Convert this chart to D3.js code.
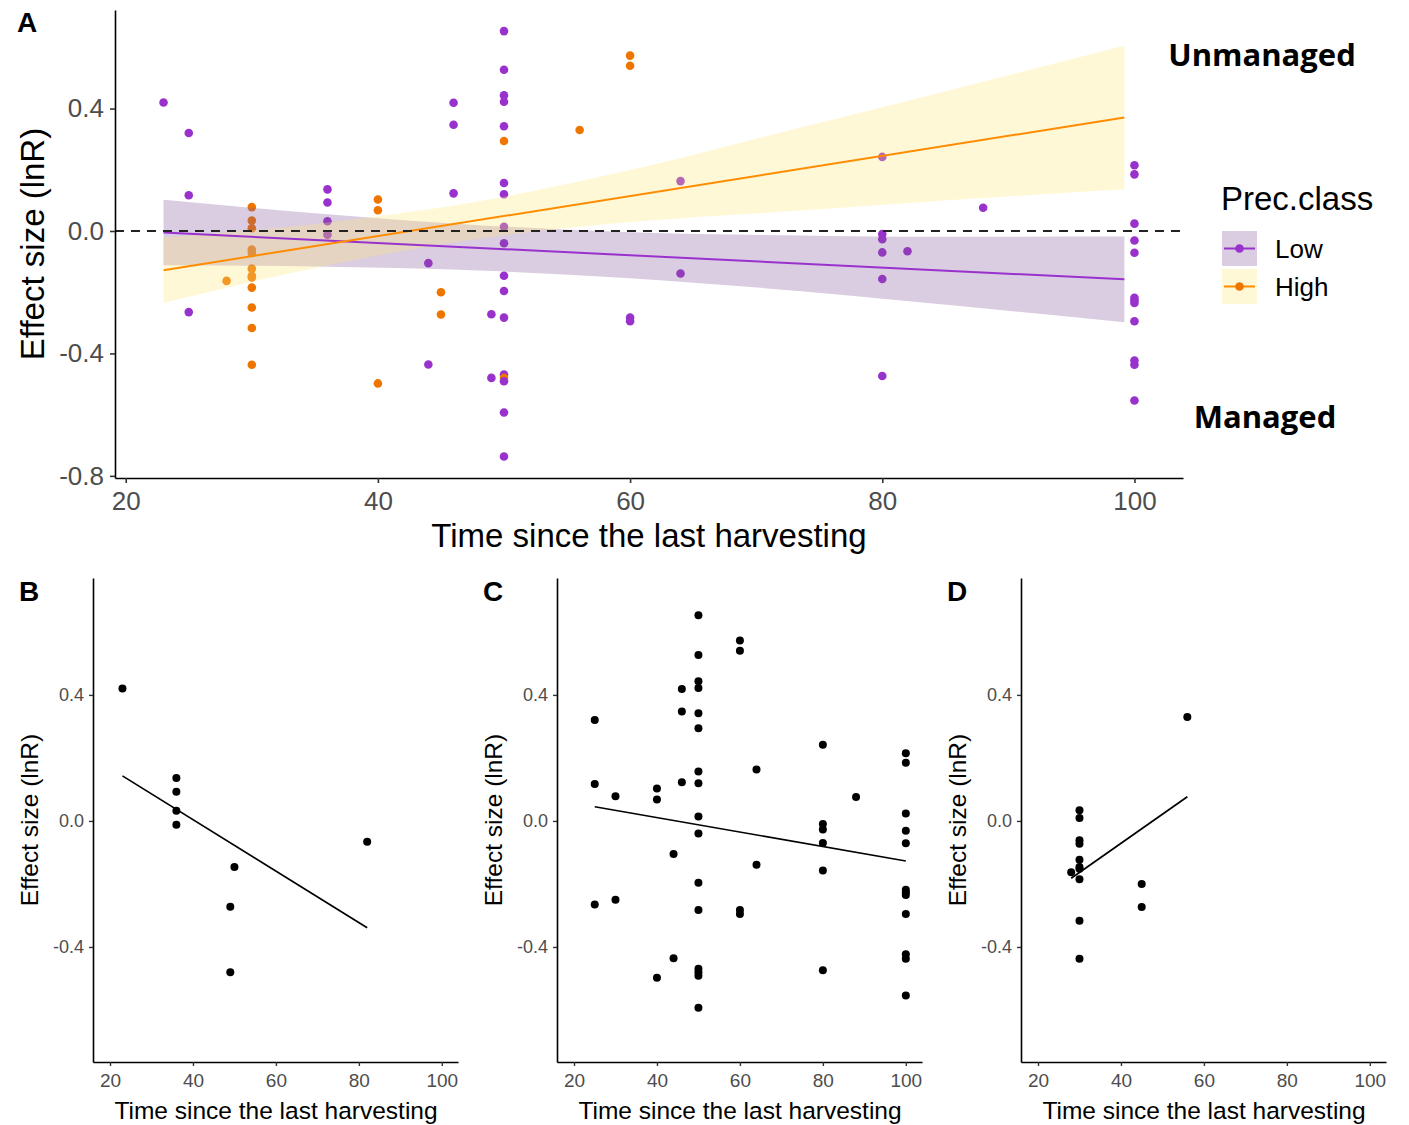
<!doctype html>
<html>
<head>
<meta charset="utf-8">
<script src="https://cdnjs.cloudflare.com/ajax/libs/d3/7.8.5/d3.min.js"></script>
<style>
  body{margin:0;background:#fff;}
  svg{font-family:"Liberation Sans",Arial,sans-serif;}
  .tick text{fill:#4d4d4d;}
</style>
</head>
<body>
<svg id="chart" width="1409" height="1125"></svg>
<script>
// panel B: sites in group B (all low precipitation)
var timeB   = [23, 36, 36, 36, 36, 49, 49, 50, 82];
var effectB = [0.42, 0.136, 0.093, 0.032, -0.012, -0.272, -0.48, -0.146, -0.066];
var precB   = ["Low","Low","Low","Low","Low","Low","Low","Low","Low"];

// panel C
var timeC = [25,25,25, 30,30, 40,40,40, 44,44, 46,46,46,
  50,50,50,50,50,50,50,50,50,50,50,50,50,50,50,50,
  60,60,60,60, 64,64, 80,80,80,80,80,80, 88,
  100,100,100,100,100,100,100,100,100,100,100,100];
var effectC = [0.32,0.117,-0.265, 0.078,-0.25, 0.103,0.068,-0.498, -0.105,-0.436, 0.419,0.347,0.123,
  0.653,0.527,0.443,0.422,0.342,0.294,0.157,0.12,0.014,-0.04,-0.196,-0.283,-0.469,-0.48,-0.491,-0.593,
  0.573,0.54,-0.283,-0.295, 0.163,-0.139, 0.242,-0.01,-0.027,-0.07,-0.157,-0.474, 0.076,
  0.215,0.185,0.024,-0.031,-0.071,-0.218,-0.226,-0.235,-0.295,-0.423,-0.437,-0.554];
var precC = ["Low","Low","Low", "High","High", "High","High","High", "Low","Low", "Low","Low","Low",
  "Low","Low","Low","Low","Low","High","Low","Low","Low","Low","Low","Low","Low","High","Low","Low",
  "High","High","Low","Low", "Low","Low", "Low","Low","Low","Low","Low","Low", "Low",
  "Low","Low","Low","Low","Low","Low","Low","Low","Low","Low","Low","Low"];

// panel D (all high precipitation)
var timeD   = [28, 30,30,30,30,30,30,30,30,30,30, 45,45, 56];
var effectD = [-0.163, 0.034,0.009,-0.061,-0.072,-0.123,-0.146,-0.152,-0.185,-0.317,-0.437, -0.2,-0.273, 0.33];
var precD   = ["High","High","High","High","High","High","High","High","High","High","High","High","High","High"];

// point only shown in panel A
var timeAOnly = [50];
var effectAOnly = [-0.737];
var precAOnly = ["Low"];

// fitted lines of the small panels (start, end)
var fitXB = [23, 82],  fitYB = [0.143, -0.339];
var fitXC = [25, 100], fitYC = [0.045, -0.127];
var fitXD = [28, 56],  fitYD = [-0.182, 0.077];

// panel A fits and confidence bands
var fitXA   = [23, 99.2];
var lowFit  = [-0.005, -0.158];
var highFit = [-0.128, 0.371];
var bandX     = [23, 35, 48, 60, 73.6, 81.5, 99.2];
var lowUpper  = [0.102, 0.058, 0.019, -0.004, -0.015, -0.019, -0.018];
var lowLower  = [-0.112, -0.116, -0.129, -0.154, -0.197, -0.227, -0.298];
var highUpper = [-0.021, 0.023, 0.097, 0.199, 0.339, 0.42, 0.606];
var highLower = [-0.235, -0.121, -0.025, 0.029, 0.067, 0.09, 0.136];

var xTicksA = [20, 40, 60, 80, 100];
var yTicksA = [0.4, 0.0, -0.4, -0.8];
var yTicksSmall = [0.4, 0.0, -0.4];

var classes = ["Low", "High"];
var pointColor = {Low: "#9932cc", High: "#ee7600"};
var lineColor  = {Low: "#9932cc", High: "#ff8c00"};
var bandColor  = {Low: "#84559a", High: "#ffe877"};

function pts(t, e, p) {
  return t.map(function(d, i){ return {x: d, y: e[i], c: p[i]}; });
}
var dataB = pts(timeB, effectB, precB);
var dataC = pts(timeC, effectC, precC);
var dataD = pts(timeD, effectD, precD);
var dataA = dataB.concat(dataC, dataD, pts(timeAOnly, effectAOnly, precAOnly));

var svg = d3.select("#chart");
var fmt = d => d.toFixed(1);   // plain hyphen minus like ggplot

// ---------- panel A ----------
var xA = d3.scaleLinear().domain([19.15, 103.85]).range([115, 1183]);
var yA = d3.scaleLinear().domain([-0.807, 0.722]).range([478, 10]);
var gA = svg.append("g");

gA.selectAll("circle.pt")
  .data(dataA)
  .enter()
  .append("circle")
  .attr("class", "pt")
  .attr("cx", d => xA(d.x))
  .attr("cy", d => yA(d.y))
  .attr("r", 4.3)
  .style("fill", d => pointColor[d.c]);

var bands = {
  Low: bandX.map((x, i) => ({x: x, lo: lowLower[i], hi: lowUpper[i]})),
  High: bandX.map((x, i) => ({x: x, lo: highLower[i], hi: highUpper[i]}))
};
var area = d3.area()
  .x(d => xA(d.x))
  .y0(d => yA(d.lo))
  .y1(d => yA(d.hi))
  .curve(d3.curveMonotoneX);

classes.forEach(function(c){
  gA.append("path")
    .attr("d", area(bands[c]))
    .style("fill", bandColor[c])
    .style("fill-opacity", 0.3);
});

var fits = {Low: lowFit, High: highFit};
classes.forEach(function(c){
  gA.append("line")
    .attr("x1", xA(fitXA[0])).attr("x2", xA(fitXA[1]))
    .attr("y1", yA(fits[c][0])).attr("y2", yA(fits[c][1]))
    .style("stroke", lineColor[c])
    .style("stroke-width", 2);
});

gA.append("line")
  .attr("x1", 115).attr("x2", 1183)
  .attr("y1", yA(0)).attr("y2", yA(0))
  .style("stroke", "#222")
  .style("stroke-width", 2.2)
  .style("stroke-dasharray", "9,7");

gA.append("g")
  .attr("transform", "translate(0,478)")
  .call(d3.axisBottom(xA).tickValues(xTicksA).tickSize(5).tickSizeOuter(0).tickPadding(9))
  .call(g => g.selectAll("text").style("font-size", "26px"));
gA.append("g")
  .attr("transform", "translate(115,0)")
  .call(d3.axisLeft(yA).tickValues(yTicksA).tickFormat(fmt).tickSize(5).tickSizeOuter(0).tickPadding(6))
  .call(g => g.selectAll("text").style("font-size", "26px"));
gA.selectAll(".domain").style("stroke", "#000").style("stroke-width", 1.6);
gA.selectAll(".tick line").style("stroke", "#333").style("stroke-width", 1.6);

gA.append("text")
  .attr("x", 649).attr("y", 547)
  .attr("text-anchor", "middle")
  .style("font-size", "33px")
  .text("Time since the last harvesting");
gA.append("text")
  .attr("transform", "translate(44,244) rotate(-90)")
  .attr("text-anchor", "middle")
  .style("font-size", "33px")
  .text("Effect size (lnR)");
gA.append("text")
  .attr("x", 17).attr("y", 32)
  .style("font-size", "28px").style("font-weight", "bold")
  .text("A");

// annotations
svg.append("text")
  .attr("x", 1262).attr("y", 66)
  .attr("text-anchor", "middle")
  .style("font-family", "'Open Sans', sans-serif")
  .style("font-size", "31px").style("font-weight", "bold")
  .text("Unmanaged");
svg.append("text")
  .attr("x", 1265).attr("y", 428)
  .attr("text-anchor", "middle")
  .style("font-family", "'Open Sans', sans-serif")
  .style("font-size", "31px").style("font-weight", "bold")
  .text("Managed");

// legend
var leg = svg.append("g").attr("transform", "translate(1221,0)");
leg.append("text")
  .attr("x", 0).attr("y", 210)
  .style("font-size", "33px")
  .text("Prec.class");
classes.forEach(function(c, i){
  var top = 231 + i * 38;
  leg.append("rect")
    .attr("x", 1).attr("y", top).attr("width", 35).attr("height", 35)
    .style("fill", bandColor[c]).style("fill-opacity", 0.3);
  leg.append("line")
    .attr("x1", 3).attr("x2", 34)
    .attr("y1", top + 17.5).attr("y2", top + 17.5)
    .style("stroke", lineColor[c]).style("stroke-width", 2);
  leg.append("circle")
    .attr("cx", 18.5).attr("cy", top + 17.5).attr("r", 4.3)
    .style("fill", pointColor[c]);
  leg.append("text")
    .attr("x", 54).attr("y", top + 27)
    .style("font-size", "26px")
    .text(c);
});

// ---------- small panels ----------
function smallPanel(left, label, data, fx, fy) {
  var x = d3.scaleLinear().domain([15.9, 103.9]).range([left, left + 365]);
  var y = d3.scaleLinear().domain([-0.765, 0.771]).range([1062, 578]);
  var g = svg.append("g");

  g.selectAll("circle")
    .data(data)
    .enter()
    .append("circle")
    .attr("cx", d => x(d.x))
    .attr("cy", d => y(d.y))
    .attr("r", 4)
    .style("fill", "#000");

  g.append("line")
    .attr("x1", x(fx[0])).attr("x2", x(fx[1]))
    .attr("y1", y(fy[0])).attr("y2", y(fy[1]))
    .style("stroke", "#000")
    .style("stroke-width", 1.7);

  g.append("g")
    .attr("transform", "translate(0,1062)")
    .call(d3.axisBottom(x).tickValues(xTicksA).tickSize(4).tickSizeOuter(0).tickPadding(8))
    .call(a => a.selectAll("text").style("font-size", "19px"));
  g.append("g")
    .attr("transform", "translate(" + left + ",0)")
    .call(d3.axisLeft(y).tickValues(yTicksSmall).tickFormat(fmt).tickSize(4).tickSizeOuter(0).tickPadding(5))
    .call(a => a.selectAll("text").style("font-size", "18px"));
  g.selectAll(".domain").style("stroke", "#000").style("stroke-width", 1.6);
  g.selectAll(".tick line").style("stroke", "#333").style("stroke-width", 1.4);

  g.append("text")
    .attr("x", left + 183).attr("y", 1119)
    .attr("text-anchor", "middle")
    .style("font-size", "24.5px")
    .text("Time since the last harvesting");
  g.append("text")
    .attr("transform", "translate(" + (left - 55) + ",820) rotate(-90)")
    .attr("text-anchor", "middle")
    .style("font-size", "24.5px")
    .text("Effect size (lnR)");
  g.append("text")
    .attr("x", left - 74).attr("y", 601)
    .style("font-size", "28px").style("font-weight", "bold")
    .text(label);
}

smallPanel(93, "B", dataB, fitXB, fitYB);
smallPanel(557, "C", dataC, fitXC, fitYC);
smallPanel(1021, "D", dataD, fitXD, fitYD);
</script>
</body>
</html>
